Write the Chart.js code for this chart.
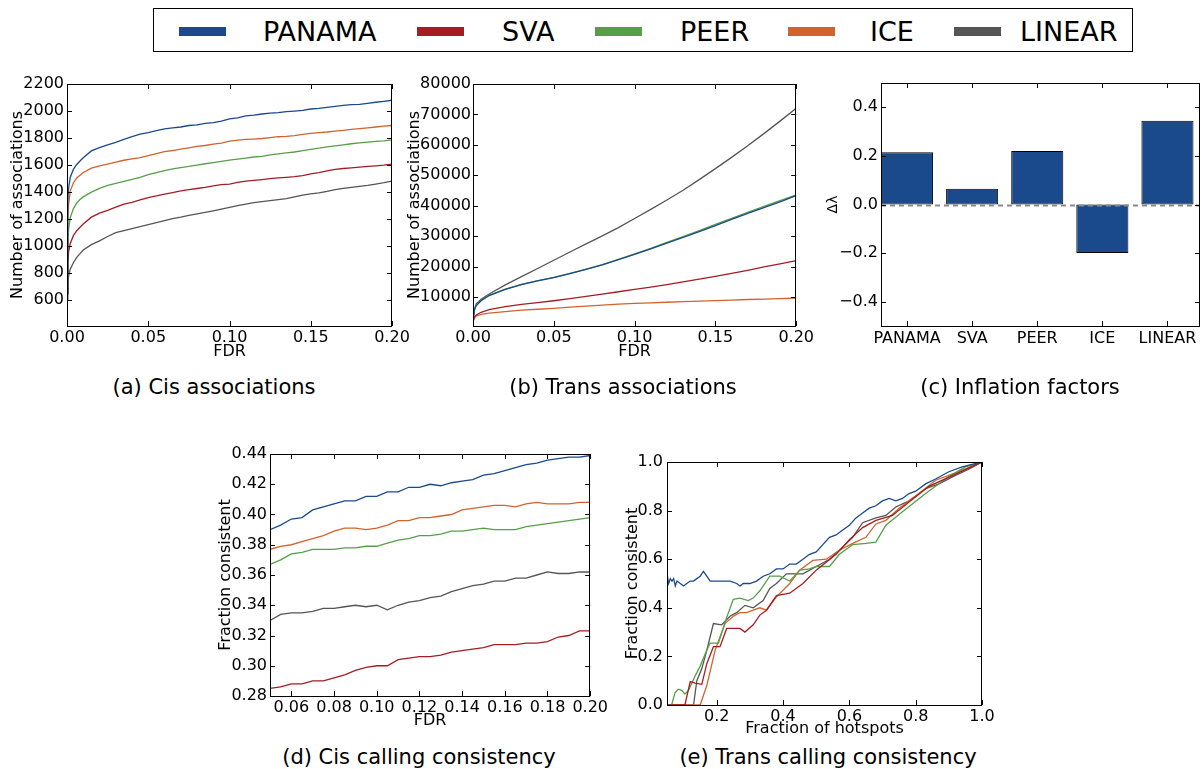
<!DOCTYPE html>
<html>
<head>
<meta charset="utf-8">
<script src="https://cdn.jsdelivr.net/npm/chart.js@4"></script>
<style>
body { margin: 0; background: #fff; font-family: "DejaVu Sans", sans-serif; }
#page { position: relative; width: 1203px; height: 769px; overflow: hidden; }
canvas { position: absolute; }
.cap { position: absolute; font-size: 21px; line-height: 21px; white-space: nowrap; transform: translateX(-50%); color: #000; }
#legend { position: absolute; left: 153px; top: 8px; width: 978px; height: 42px; border: 1.5px solid #000; }
.sw { position: absolute; top: 18px; width: 47px; height: 9px; }
.lt { position: absolute; top: 9px; font-size: 27px; line-height: 27px; color: #000; }
</style>
</head>
<body>
<div id="page">
  <div id="legend"></div>
  <canvas id="cisChart"></canvas>
  <canvas id="transChart"></canvas>
  <canvas id="inflChart"></canvas>
  <canvas id="cisConsChart"></canvas>
  <canvas id="transConsChart"></canvas>
  <div class="cap" style="left:214px;top:377px">(a) Cis associations</div>
  <div class="cap" style="left:623px;top:377px">(b) Trans associations</div>
  <div class="cap" style="left:1020px;top:377px">(c) Inflation factors</div>
  <div class="cap" style="left:419px;top:747px">(d) Cis calling consistency</div>
  <div class="cap" style="left:828px;top:747px">(e) Trans calling consistency</div>
</div>
<script>
// methods
const methods = ['PANAMA', 'SVA', 'PEER', 'ICE', 'LINEAR'];
const colors = ['#1a4a8c', '#a51d24', '#55a047', '#d1632c', '#555555'];

// (a) cis associations vs FDR
const fdrA = [0,0.0005,0.001,0.002,0.004,0.006,0.008,0.01,0.015,0.02,0.025,0.03,0.035,0.04,0.045,0.05,0.055,0.06,0.065,0.07,0.075,0.08,0.085,0.09,0.095,0.1,0.105,0.11,0.115,0.12,0.125,0.13,0.135,0.14,0.145,0.15,0.155,0.16,0.165,0.17,0.175,0.18,0.185,0.19,0.195,0.2];
const cisPanama = [650,1330,1430,1510,1570,1605,1630,1655,1705,1730,1750,1768,1790,1810,1830,1840,1855,1868,1875,1882,1893,1897,1908,1915,1925,1942,1950,1965,1970,1978,1985,1988,1996,2000,2005,2015,2020,2027,2035,2042,2048,2050,2057,2065,2072,2080];
const cisSva = [650,880,960,1020,1080,1115,1140,1165,1215,1245,1265,1290,1312,1325,1342,1360,1372,1385,1397,1410,1418,1427,1435,1447,1455,1460,1472,1482,1487,1493,1500,1505,1510,1515,1523,1535,1545,1558,1568,1575,1580,1585,1590,1595,1600,1607];
const cisPeer = [650,1050,1130,1210,1280,1320,1345,1365,1400,1428,1450,1465,1480,1495,1510,1530,1545,1560,1572,1582,1590,1600,1610,1618,1627,1637,1645,1652,1660,1665,1675,1683,1690,1697,1707,1717,1725,1735,1742,1750,1758,1765,1770,1775,1780,1787];
const cisIce = [650,1200,1310,1410,1470,1505,1525,1545,1578,1595,1608,1622,1636,1646,1656,1670,1685,1700,1708,1718,1728,1738,1745,1755,1762,1778,1785,1790,1793,1797,1803,1810,1813,1818,1828,1835,1840,1845,1852,1857,1865,1870,1876,1882,1888,1893];
const cisLinear = [600,720,780,830,880,918,945,972,1012,1040,1072,1100,1115,1130,1145,1160,1175,1190,1205,1215,1228,1240,1250,1262,1275,1287,1300,1312,1322,1330,1337,1345,1352,1365,1378,1388,1395,1405,1418,1428,1435,1442,1450,1460,1470,1482];
const ticksAx = [0, 0.05, 0.1, 0.15, 0.2];
const ticksAy = [600, 800, 1000, 1200, 1400, 1600, 1800, 2000, 2200];

// (b) trans associations vs FDR
const fdrB = [0,0.001,0.002,0.005,0.01,0.02,0.03,0.04,0.05,0.06,0.07,0.08,0.09,0.1,0.11,0.12,0.13,0.14,0.15,0.16,0.17,0.18,0.19,0.2];
const transPanama = [3000,6000,7200,8800,10500,12500,14100,15300,16400,17700,19100,20600,22300,24000,25800,27700,29600,31500,33500,35500,37500,39400,41300,43300];
const transSva = [2000,3500,4100,5000,5900,6900,7600,8200,8800,9500,10200,11000,11750,12500,13300,14100,15000,15900,16800,17800,18800,19900,20900,22000];
const transPeer = [3000,6100,7300,8900,10600,12600,14200,15400,16500,17800,19200,20700,22400,24200,26000,27950,29900,31850,33850,35850,37850,39800,41700,43600];
const transIce = [2000,3300,3800,4300,4700,5200,5700,6000,6300,6700,7000,7350,7700,7900,8100,8300,8500,8700,8850,9000,9200,9350,9500,9700];
const transLinear = [2000,6000,7800,9300,11000,14000,16700,19400,22100,24800,27500,30100,32800,35800,38800,41900,45100,48600,52200,55900,59700,63700,67800,72000];
const ticksBx = [0, 0.05, 0.1, 0.15, 0.2];
const ticksBy = [10000, 20000, 30000, 40000, 50000, 60000, 70000, 80000];

// (c) inflation factors
const inflation = [0.215, 0.065, 0.22, -0.2, 0.345];
const ticksCx = [0, 1, 2, 3, 4];
const ticksCy = [-0.4, -0.2, 0, 0.2, 0.4];

// (d) cis calling consistency
const fdrD = [0.05,0.055,0.06,0.065,0.07,0.075,0.08,0.085,0.09,0.095,0.1,0.105,0.11,0.115,0.12,0.125,0.13,0.135,0.14,0.145,0.15,0.155,0.16,0.165,0.17,0.175,0.18,0.185,0.19,0.195,0.2];
const consPanama = [0.390,0.393,0.397,0.398,0.403,0.405,0.407,0.409,0.409,0.412,0.412,0.415,0.415,0.418,0.418,0.420,0.419,0.421,0.422,0.423,0.426,0.427,0.429,0.431,0.433,0.434,0.436,0.437,0.438,0.438,0.439];
const consSva = [0.285,0.286,0.288,0.288,0.290,0.290,0.292,0.294,0.297,0.299,0.300,0.300,0.304,0.305,0.306,0.306,0.307,0.309,0.310,0.311,0.312,0.314,0.314,0.314,0.315,0.315,0.316,0.319,0.320,0.323,0.323];
const consPeer = [0.367,0.370,0.374,0.375,0.377,0.377,0.377,0.378,0.378,0.379,0.379,0.381,0.383,0.384,0.386,0.386,0.387,0.389,0.389,0.390,0.391,0.390,0.390,0.390,0.392,0.393,0.394,0.395,0.396,0.397,0.398];
const consIce = [0.377,0.379,0.380,0.382,0.384,0.386,0.389,0.391,0.391,0.390,0.391,0.393,0.396,0.396,0.398,0.398,0.399,0.400,0.403,0.404,0.405,0.406,0.406,0.405,0.407,0.408,0.407,0.407,0.407,0.408,0.408];
const consLinear = [0.330,0.334,0.335,0.335,0.336,0.338,0.338,0.339,0.340,0.339,0.340,0.337,0.340,0.342,0.343,0.345,0.346,0.349,0.351,0.353,0.354,0.356,0.356,0.358,0.358,0.360,0.362,0.361,0.361,0.362,0.362];
const ticksDx = [0.06, 0.08, 0.1, 0.12, 0.14, 0.16, 0.18, 0.2];
const ticksDy = [0.28, 0.3, 0.32, 0.34, 0.36, 0.38, 0.4, 0.42, 0.44];

// (e) trans calling consistency (fraction of hotspots)
const hotPanamaX = [0.05,0.055,0.06,0.065,0.07,0.075,0.08,0.09,0.1,0.11,0.12,0.13,0.14,0.15,0.16,0.17,0.18,0.2,0.22,0.24,0.26,0.27,0.28,0.3,0.32,0.34,0.36,0.38,0.4,0.42,0.44,0.46,0.48,0.5,0.52,0.54,0.56,0.58,0.6,0.62,0.64,0.66,0.68,0.7,0.72,0.74,0.76,0.78,0.8,0.83,0.86,0.9,0.94,0.97,1.0];
const hotPanamaY = [0.54,0.50,0.52,0.51,0.52,0.49,0.51,0.50,0.49,0.50,0.51,0.51,0.52,0.53,0.55,0.53,0.51,0.51,0.51,0.51,0.50,0.49,0.50,0.50,0.51,0.53,0.54,0.56,0.56,0.58,0.58,0.60,0.62,0.63,0.66,0.69,0.70,0.72,0.74,0.77,0.79,0.81,0.82,0.84,0.85,0.84,0.85,0.87,0.88,0.91,0.93,0.96,0.98,0.99,1.0];
const hotSvaX = [0.05,0.104,0.12,0.135,0.155,0.17,0.19,0.21,0.23,0.27,0.285,0.31,0.33,0.35,0.38,0.42,0.46,0.5,0.56,0.6,0.64,0.68,0.73,0.78,0.84,0.92,1.0];
const hotSvaY = [0,0,0.096,0.09,0.085,0.17,0.24,0.24,0.315,0.315,0.30,0.33,0.37,0.39,0.45,0.46,0.5,0.555,0.62,0.68,0.73,0.76,0.78,0.835,0.9,0.95,1.0];
const hotPeerX = [0.05,0.064,0.074,0.084,0.094,0.104,0.115,0.125,0.135,0.15,0.165,0.18,0.205,0.23,0.25,0.27,0.295,0.31,0.33,0.36,0.39,0.42,0.45,0.48,0.5,0.54,0.57,0.61,0.65,0.68,0.71,0.76,0.83,0.9,0.95,1.0];
const hotPeerY = [0,0,0.05,0.065,0.06,0.045,0.06,0.09,0.12,0.16,0.21,0.255,0.255,0.36,0.435,0.44,0.43,0.44,0.47,0.53,0.53,0.51,0.555,0.56,0.57,0.57,0.62,0.66,0.665,0.67,0.74,0.795,0.87,0.94,0.98,1.0];
const hotIceX = [0.05,0.15,0.17,0.195,0.225,0.25,0.27,0.29,0.31,0.33,0.35,0.38,0.42,0.45,0.49,0.53,0.57,0.61,0.65,0.68,0.71,0.75,0.8,0.86,0.93,1.0];
const hotIceY = [0,0,0.08,0.225,0.335,0.365,0.38,0.38,0.39,0.40,0.39,0.445,0.5,0.555,0.595,0.6,0.637,0.665,0.69,0.745,0.76,0.81,0.86,0.925,0.96,1.0];
const hotLinearX = [0.05,0.13,0.14,0.155,0.17,0.19,0.215,0.24,0.26,0.285,0.31,0.34,0.36,0.38,0.41,0.46,0.5,0.54,0.58,0.61,0.64,0.68,0.71,0.74,0.78,0.83,0.87,0.92,0.96,1.0];
const hotLinearY = [0,0,0.1,0.15,0.225,0.335,0.33,0.365,0.38,0.41,0.40,0.43,0.48,0.5,0.54,0.54,0.57,0.6,0.65,0.69,0.75,0.77,0.78,0.815,0.84,0.89,0.91,0.945,0.97,1.0];
const ticksEx = [0.2, 0.4, 0.6, 0.8, 1.0];
const ticksEy = [0, 0.2, 0.4, 0.6, 0.8, 1.0];

// legend (html)
const legendX = [[179, 263], [417, 502], [595, 680], [788, 870], [954, 1020]];
const lg = document.getElementById('legend');
methods.forEach((m, i) => {
	const sw = document.createElement('div');
	sw.className = 'sw';
	sw.style.left = (legendX[i][0] - 154) + 'px';
	sw.style.background = colors[i];
	lg.appendChild(sw);
	const t = document.createElement('div');
	t.className = 'lt';
	t.style.left = (legendX[i][1] - 154) + 'px';
	t.textContent = m;
	lg.appendChild(t);
});

const font16 = {family: 'DejaVu Sans', size: 16};
const LH = 16 * 1.2;

// matplotlib-style frame with inward ticks on all sides
const frameTicks = {
	id: 'frameTicks',
	afterDraw(chart) {
		const {ctx, chartArea: a} = chart;
		const x = chart.scales.x, y = chart.scales.y;
		ctx.save();
		ctx.strokeStyle = '#000';
		ctx.lineWidth = 1;
		ctx.beginPath();
		x.ticks.forEach(t => {
			const px = Math.round(x.getPixelForValue(t.value)) + 0.5;
			if (px < a.left || px > a.right + 1) return;
			ctx.moveTo(px, a.bottom); ctx.lineTo(px, a.bottom - 5);
			ctx.moveTo(px, a.top); ctx.lineTo(px, a.top + 5);
		});
		y.ticks.forEach(t => {
			const py = Math.round(y.getPixelForValue(t.value)) + 0.5;
			if (py < a.top || py > a.bottom + 1) return;
			ctx.moveTo(a.left, py); ctx.lineTo(a.left + 5, py);
			ctx.moveTo(a.right, py); ctx.lineTo(a.right - 5, py);
		});
		ctx.stroke();
		ctx.strokeRect(Math.round(a.left) + 0.5, Math.round(a.top) + 0.5, Math.round(a.width) - 1, Math.round(a.height));
		ctx.restore();
	}
};

// dashed zero line for the bar panel
const zeroLine = {
	id: 'zeroLine',
	afterDatasetsDraw(chart) {
		if (!chart.options.plugins.zeroLine) return;
		const {ctx, chartArea: a} = chart;
		const py = Math.round(chart.scales.y.getPixelForValue(0)) + 0.5;
		ctx.save();
		ctx.strokeStyle = '#8a8a8a';
		ctx.lineWidth = 2;
		ctx.setLineDash([5, 4]);
		ctx.beginPath();
		ctx.moveTo(a.left, py); ctx.lineTo(a.right, py);
		ctx.stroke();
		ctx.restore();
	}
};

function place(id, p) {
	const c = document.getElementById(id);
	c.width = p.cv[2]; c.height = p.cv[3];
	c.style.left = p.cv[0] + 'px'; c.style.top = p.cv[1] + 'px';
	return c;
}

function baseOptions(p, xo, yo) {
	const cvBottom = p.cv[1] + p.cv[3];
	const ylh = yo.titleFont ? yo.titleFont.size * 1.2 : LH;
	return {
		responsive: false,
		animation: false,
		layout: {padding: {left: 0, bottom: 0, top: p.plot[1] - p.cv[1], right: p.cv[0] + p.cv[2] - p.plot[2]}},
		plugins: {legend: {display: false}, tooltip: {enabled: false}, zeroLine: !!p.zero},
		scales: {
			x: {
				type: 'linear', min: xo.min, max: xo.max, offset: false,
				grid: {display: false, drawTicks: false}, border: {display: false},
				ticks: {autoSkip: false, maxRotation: 0, padding: xo.pad || 2, color: '#000', font: font16, callback: xo.fmt},
				afterBuildTicks: s => { s.ticks = xo.ticks.map(v => ({value: v})); },
				title: xo.title ? {display: true, text: xo.title, color: '#000', font: font16,
					padding: {top: 0, bottom: cvBottom - p.xTitleY - LH / 2}} : {display: false},
				afterFit: s => { s.height = cvBottom - p.plot[3]; }
			},
			y: {
				type: 'linear', min: yo.min, max: yo.max,
				grid: {display: false, drawTicks: false}, border: {display: false},
				ticks: {autoSkip: false, padding: yo.pad, color: '#000', font: font16, callback: yo.fmt},
				afterBuildTicks: s => { s.ticks = yo.ticks.map(v => ({value: v})); },
				title: {display: true, text: yo.title, color: '#000', font: yo.titleFont || font16,
					padding: {top: p.yTitleX - p.cv[0] - ylh / 2, bottom: 0}},
				afterFit: s => { s.width = p.plot[0] - p.cv[0]; }
			}
		}
	};
}

function lineSet(xs, ys, i) {
	return {
		label: methods[i],
		data: xs.map((x, k) => ({x: x, y: ys[k]})),
		borderColor: colors[i],
		borderWidth: 1.3,
		pointRadius: 0,
		tension: 0,
		fill: false
	};
}

const fix2 = v => v.toFixed(2);
const fix1 = v => v.toFixed(1);
const minus1 = v => (v < 0 ? '\u2212' : '') + Math.abs(v).toFixed(1);

// (a)
const pA = {cv: [0, 66, 414, 300], plot: [67, 84, 392, 326], xTitleY: 352, yTitleX: 18};
new Chart(place('cisChart', pA), {
	type: 'line',
	data: {datasets: [cisPanama, cisSva, cisPeer, cisIce, cisLinear].map((s, i) => lineSet(fdrA, s, i))},
	options: baseOptions(pA,
		{min: 0, max: 0.2, ticks: ticksAx, fmt: fix2, title: 'FDR'},
		{min: 410, max: 2200, ticks: ticksAy, pad: 3, fmt: v => String(v), title: 'Number of associations'}),
	plugins: [frameTicks]
});

// (b)
const pB = {cv: [400, 66, 416, 300], plot: [473, 84, 799, 326], xTitleY: 352, yTitleX: 415};
new Chart(place('transChart', pB), {
	type: 'line',
	data: {datasets: [transPanama, transSva, transPeer, transIce, transLinear].map((s, i) => lineSet(fdrB, s, i))},
	options: baseOptions(pB,
		{min: 0, max: 0.2, ticks: ticksBx, fmt: fix2, title: 'FDR'},
		{min: 500, max: 80000, ticks: ticksBy, pad: 2, fmt: v => String(v), title: 'Number of associations'}),
	plugins: [frameTicks]
});

// (c)
const pC = {cv: [812, 66, 394, 300], plot: [881, 83, 1200, 326], xTitleY: 0, yTitleX: 833, zero: true};
new Chart(place('inflChart', pC), {
	type: 'bar',
	data: {datasets: [{
		data: inflation.map((v, i) => ({x: i, y: v})),
		backgroundColor: colors[0],
		borderColor: '#000',
		borderWidth: 1,
		borderSkipped: false,
		barPercentage: 0.8,
		categoryPercentage: 1
	}]},
	options: baseOptions(pC,
		{min: -0.4, max: 4.5, ticks: ticksCx, pad: 3, fmt: v => methods[v] || ''},
		{min: -0.5, max: 0.5, ticks: ticksCy, pad: 3, fmt: minus1, title: '\u0394\u03bb', titleFont: {family: 'DejaVu Sans', size: 14}}),
	plugins: [zeroLine, frameTicks]
});

// (d)
const pD = {cv: [210, 440, 400, 300], plot: [270, 454, 596, 696], xTitleY: 721, yTitleX: 226};
new Chart(place('cisConsChart', pD), {
	type: 'line',
	data: {datasets: [consPanama, consSva, consPeer, consIce, consLinear].map((s, i) => lineSet(fdrD, s, i))},
	options: baseOptions(pD,
		{min: 0.05, max: 0.2, ticks: ticksDx, fmt: fix2, title: 'FDR'},
		{min: 0.28, max: 0.44, ticks: ticksDy, pad: 3, fmt: fix2, title: 'Fraction consistent'}),
	plugins: [frameTicks]
});

// (e)
const pE = {cv: [612, 440, 400, 305], plot: [667, 462, 982, 705], xTitleY: 729, yTitleX: 633};
const hotX = [hotPanamaX, hotSvaX, hotPeerX, hotIceX, hotLinearX];
const hotY = [hotPanamaY, hotSvaY, hotPeerY, hotIceY, hotLinearY];
new Chart(place('transConsChart', pE), {
	type: 'line',
	data: {datasets: hotX.map((xs, i) => lineSet(xs, hotY[i], i))},
	options: baseOptions(pE,
		{min: 0.05, max: 1.0, ticks: ticksEx, fmt: fix1, title: 'Fraction of hotspots'},
		{min: 0, max: 1.0, ticks: ticksEy, pad: 4, fmt: fix1, title: 'Fraction consistent'}),
	plugins: [frameTicks]
});
</script>
</body>
</html>
